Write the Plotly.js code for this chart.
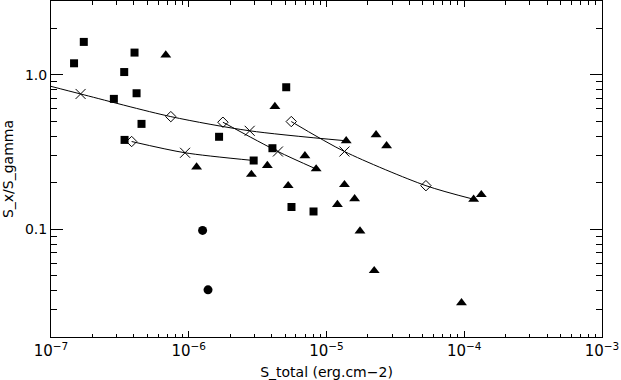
<!DOCTYPE html>
<html>
<head>
<meta charset="utf-8">
<script src="https://cdn.plot.ly/plotly-3.0.1.min.js"></script>
<style>
  html, body { margin: 0; padding: 0; background: #ffffff; }
  #plot { width: 621px; height: 380px; }
</style>
</head>
<body>
<div id="plot"></div>
<script>
// filled squares
const squareX = [1.47e-7, 1.73e-7, 4.04e-7, 3.40e-7, 2.86e-7, 4.18e-7, 4.54e-7, 3.42e-7,
    1.66e-6, 2.96e-6, 4.05e-6, 5.10e-6, 5.57e-6, 8.05e-6];
const squareY = [1.185, 1.63, 1.39, 1.04, 0.697, 0.758, 0.480, 0.378,
    0.396, 0.278, 0.334, 0.829, 0.139, 0.130];

// filled triangles
const triangleX = [6.81e-7, 1.14e-6, 2.85e-6, 3.72e-6, 4.22e-6, 5.27e-6, 6.97e-6, 8.41e-6,
    1.39e-5, 2.29e-5, 2.73e-5, 1.35e-5, 1.60e-5, 1.20e-5, 1.75e-5, 2.22e-5,
    9.55e-5, 1.17e-4, 1.33e-4];
const triangleY = [1.34, 0.252, 0.226, 0.258, 0.621, 0.191, 0.298, 0.245,
    0.373, 0.408, 0.346, 0.194, 0.157, 0.144, 0.097, 0.0538,
    0.0333, 0.156, 0.167];

// filled circles
const circleX = [1.26e-6, 1.38e-6];
const circleY = [0.098, 0.0404];

// curves: points along each line, and which marker sits on each point
const curve1X = [1.0e-7, 1.64e-7, 7.41e-7, 2.77e-6, 1.39e-5];
const curve1Y = [0.84, 0.750, 0.535, 0.433, 0.373];
const curve1Marks = ["", "x", "d", "x", ""];

const curve2X = [1.77e-6, 4.44e-6, 8.41e-6];
const curve2Y = [0.492, 0.318, 0.245];
const curve2Marks = ["d", "x", ""];

const curve3X = [3.85e-7, 9.40e-7, 2.96e-6];
const curve3Y = [0.369, 0.312, 0.278];
const curve3Marks = ["d", "x", ""];

const curve4X = [5.55e-6, 1.35e-5, 5.27e-5, 1.17e-4];
const curve4Y = [0.497, 0.318, 0.191, 0.156];
const curve4Marks = ["d", "x", "d", ""];

const xTickVals = [1e-7, 1e-6, 1e-5, 1e-4, 1e-3];
const xTickExp = ["7", "6", "5", "4", "3"];
const yTickVals = [0.1, 1];
const yTickText = ["0.1", "1.0"];

function minorLogTicks(lo, hi) {
    const vals = [];
    for (let e = lo; e <= hi; e += 1) {
        for (let d = 2; d <= 9; d += 1) {
            vals.push(d * Math.pow(10, e));
        }
    }
    return vals;
}

const curves = [
    [curve1X, curve1Y, curve1Marks],
    [curve2X, curve2Y, curve2Marks],
    [curve3X, curve3Y, curve3Marks],
    [curve4X, curve4Y, curve4Marks]
];

const traces = [];
const crossX = [];
const crossY = [];
const diamondX = [];
const diamondY = [];

curves.forEach(([cx, cy, marks]) => {
    traces.push({
        x: cx,
        y: cy,
        type: "scatter",
        mode: "lines",
        line: { color: "#000000", width: 1, shape: "spline", smoothing: 0.8 },
        hoverinfo: "skip"
    });
    marks.forEach((m, i) => {
        if (m === "x") { crossX.push(cx[i]); crossY.push(cy[i]); }
        if (m === "d") { diamondX.push(cx[i]); diamondY.push(cy[i]); }
    });
});

traces.push({
    x: crossX, y: crossY, type: "scatter", mode: "markers",
    marker: { symbol: "x-thin-open", size: 10, color: "#000000", line: { width: 1, color: "#000000" } }
});
traces.push({
    x: diamondX, y: diamondY, type: "scatter", mode: "markers",
    marker: { symbol: "diamond-open", size: 8, color: "#000000", line: { width: 1, color: "#000000" } }
});
traces.push({
    x: squareX, y: squareY, type: "scatter", mode: "markers",
    marker: { symbol: "square", size: 8, color: "#000000" }
});
traces.push({
    x: triangleX, y: triangleY, type: "scatter", mode: "markers",
    marker: { symbol: "triangle-up", size: 9.5, color: "#000000" }
});
traces.push({
    x: circleX, y: circleY, type: "scatter", mode: "markers",
    marker: { symbol: "circle", size: 9, color: "#000000" }
});

const layout = {
    width: 621,
    height: 380,
    margin: { l: 51, r: 19, t: 1, b: 43 },
    paper_bgcolor: "#ffffff",
    plot_bgcolor: "#ffffff",
    showlegend: false,
    font: { family: "DejaVu Sans, sans-serif", size: 14, color: "#000000" },
    xaxis: {
        type: "log",
        range: [-7, -3],
        tickmode: "array",
        tickvals: xTickVals,
        ticktext: xTickExp.map((e) => "10<sup>\u2212" + e + "</sup>"),
        tickfont: { size: 15 },
        ticks: "inside",
        ticklen: 6,
        tickwidth: 1,
        tickcolor: "#000000",
        showline: true,
        linecolor: "#000000",
        linewidth: 1,
        mirror: "ticks",
        showgrid: false,
        zeroline: false,
        minor: { tickmode: "array", tickvals: minorLogTicks(-7, -4), ticks: "inside", ticklen: 3.5, tickcolor: "#000000", showgrid: false },
        title: { text: "S_total (erg.cm\u22122)", font: { size: 14 }, standoff: 9 }
    },
    yaxis: {
        type: "log",
        range: [Math.log10(0.02), Math.log10(3)],
        tickmode: "array",
        tickvals: yTickVals,
        ticktext: yTickText,
        ticks: "inside",
        ticklen: 12,
        tickwidth: 1,
        tickcolor: "#000000",
        showline: true,
        linecolor: "#000000",
        linewidth: 1,
        mirror: "ticks",
        showgrid: false,
        zeroline: false,
        minor: { tickmode: "array", tickvals: minorLogTicks(-2, 0), ticks: "inside", ticklen: 6, tickcolor: "#000000", showgrid: false },
        title: { text: "S_x/S_gamma", font: { size: 14 }, standoff: 8 }
    }
};

Plotly.newPlot("plot", traces, layout, { displayModeBar: false, staticPlot: true });
</script>
</body>
</html>
